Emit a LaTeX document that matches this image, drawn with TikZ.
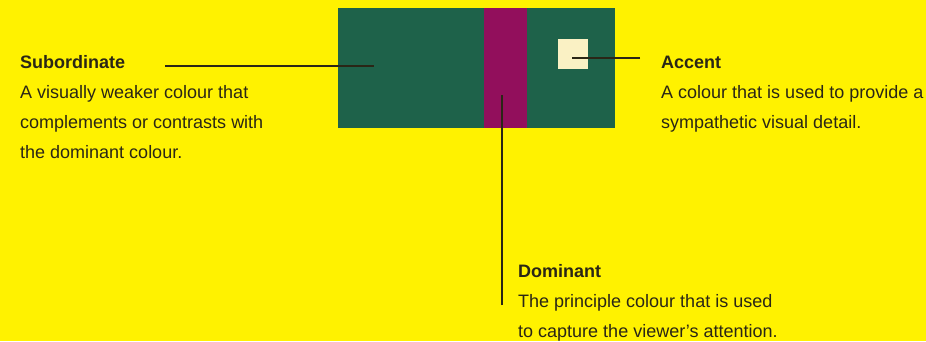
\documentclass[tikz,border=0pt]{standalone}
\usepackage{fontspec}
\setmainfont{Liberation Sans}
\usetikzlibrary{positioning}
\definecolor{bgyellow}{HTML}{FFF200}
\definecolor{fieldgreen}{HTML}{1E624A}
\definecolor{stripmagenta}{HTML}{920F5C}
\definecolor{accentcream}{HTML}{FAF1C4}
\definecolor{inkdark}{HTML}{2A2616}
\begin{document}
\begin{tikzpicture}[
  x=1pt, y=-1pt,
  every node/.style={font=\fontsize{18}{30}\selectfont, text=inkdark},
  swatch/.style={anchor=north west, inner sep=0pt, outer sep=0pt, draw=none},
  caption/.style={anchor=base west, align=left, inner sep=0pt},
  leader/.style={draw=inkdark, line width=1.5pt}
]
% background and frame of the picture
\fill[bgyellow] (0,0) rectangle (926,341);
\useasboundingbox (0,0) rectangle (926,341);

% colour swatches
\node[swatch, fill=fieldgreen, minimum width=277pt, minimum height=120pt] (field) at (338,8) {};
\node[swatch, fill=stripmagenta, minimum width=43pt, minimum height=120pt] (strip) at (484,8) {};
\node[swatch, fill=accentcream, minimum width=30pt, minimum height=30pt] (spot) at (558,39) {};

% captions (placed by the baseline of their last line)
\node[caption] (sub) at (20,158) {\textbf{Subordinate}\\A visually weaker colour that\\complements or contrasts with\\the dominant colour.};
\node[caption] (acc) at (661,128) {\textbf{Accent}\\A colour that is used to provide a\\sympathetic visual detail.};
\node[caption] (dom) at (518,337) {\textbf{Dominant}\\The principle colour that is used\\to capture the viewer's attention.};

% leader lines
\coordinate (subtip) at (165,66);
\coordinate (subend) at (374,66);
\coordinate (acctip) at (640,58);
\coordinate (accend) at (572,58);
\coordinate (domtip) at (502,305);
\coordinate (domend) at (502,95);
\draw[leader] (subtip) -- (subend);
\draw[leader] (acctip) -- (accend);
\draw[leader] (domtip) -- (domend);
\end{tikzpicture}
\end{document}
